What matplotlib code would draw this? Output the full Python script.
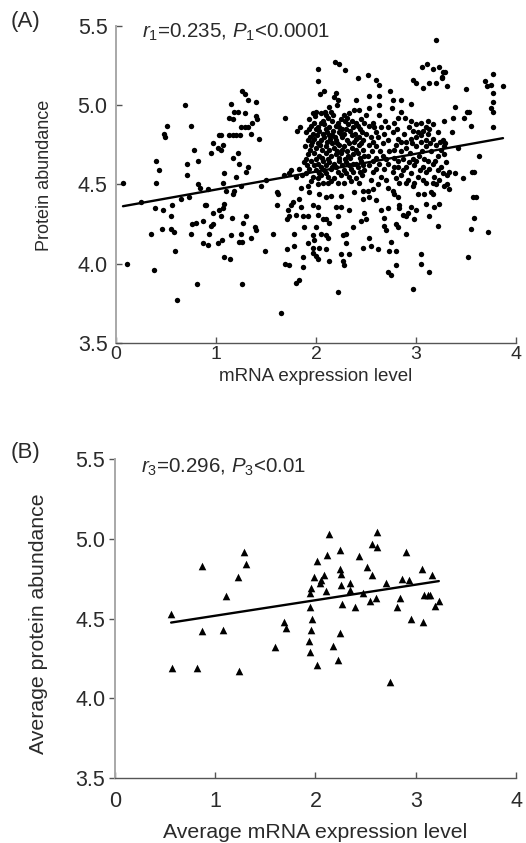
import numpy as np
import matplotlib
matplotlib.use("Agg")
import matplotlib.pyplot as plt

# -----------------------------
# Data
# -----------------------------
# (A) individual genes: (mRNA expression level, protein abundance)
genes_low_mrna = [
    (0.07, 4.51), (0.11, 4.00), (0.25, 4.39), (0.35, 4.19), (0.38, 3.96), (0.39, 4.35),
    (0.40, 4.65), (0.43, 4.59), (0.40, 4.51), (0.46, 4.22), (0.47, 4.34), (0.48, 4.82),
    (0.49, 4.80), (0.51, 4.87), (0.55, 4.30), (0.56, 4.37), (0.55, 4.22), (0.58, 4.20),
    (0.59, 4.08), (0.61, 3.77), (0.65, 4.41), (0.69, 5.00), (0.71, 4.56), (0.71, 4.63),
    (0.73, 4.42), (0.75, 4.87), (0.75, 4.19), (0.76, 4.25), (0.78, 4.72), (0.80, 4.26),
    (0.81, 3.87), (0.82, 4.65), (0.82, 4.50), (0.84, 4.48), (0.87, 4.27), (0.87, 4.13),
    (0.89, 4.37),
]

genes_mid_mrna = [
    (1.26, 5.09), (1.29, 5.07), (1.32, 5.03), (1.40, 5.02), (1.15, 5.01), (1.18, 4.96),
    (1.22, 4.96), (1.29, 4.95), (1.13, 4.92), (1.17, 4.91), (1.40, 4.93), (1.41, 4.91),
    (1.69, 4.92), (1.36, 4.89), (1.25, 4.86), (1.29, 4.86), (1.32, 4.86), (1.35, 4.82),
    (1.43, 4.79), (1.03, 4.81), (1.05, 4.81), (1.13, 4.81), (1.17, 4.81), (1.20, 4.81),
    (1.24, 4.81), (0.97, 4.76), (1.07, 4.75), (0.95, 4.70), (1.02, 4.73), (1.05, 4.72),
    (1.17, 4.67), (1.22, 4.70), (1.23, 4.63), (1.32, 4.61), (1.08, 4.57), (1.20, 4.55),
    (1.30, 4.58), (1.50, 4.53), (1.68, 4.56), (1.73, 4.57),
    (1.07, 4.51), (1.25, 4.49), (1.45, 4.49), (0.92, 4.47), (1.10, 4.46), (1.18, 4.46),
    (1.17, 4.44), (1.61, 4.45), (1.62, 4.44), (0.90, 4.37), (0.97, 4.32), (1.03, 4.34),
    (1.07, 4.35), (1.05, 4.30), (1.08, 4.38), (1.16, 4.29), (1.27, 4.26), (1.30, 4.30),
    (1.61, 4.37), (1.72, 4.34), (1.73, 4.30), (1.71, 4.28), (0.97, 4.25), (0.95, 4.24),
    (0.93, 4.19), (1.15, 4.18), (1.25, 4.19), (1.26, 4.14), (1.23, 4.14), (1.35, 4.16),
    (1.39, 4.23), (1.40, 4.21), (1.57, 4.19), (0.92, 4.12), (1.02, 4.13), (1.06, 4.15),
    (1.49, 4.08), (1.71, 4.09), (1.08, 4.04), (1.14, 4.03), (1.69, 4.00), (1.73, 3.99),
    (1.26, 3.87), (1.65, 3.69),
]

genes_dense_upper = [
    (2.02, 5.23), (2.02, 5.15), (2.19, 5.27), (2.23, 5.26), (2.29, 5.22), (2.42, 5.17),
    (2.04, 5.07), (2.08, 5.09), (2.20, 5.08), (2.18, 5.05), (2.22, 5.03), (2.21, 5.00),
    (2.40, 5.03), (2.38, 4.97), (2.43, 4.97), (2.13, 4.99), (1.97, 4.95), (2.00, 4.96),
    (2.05, 4.95), (2.09, 4.96), (2.15, 4.96), (2.17, 4.94), (1.84, 4.86), (1.81, 4.84),
    (1.93, 4.91), (2.07, 4.90), (2.12, 4.92), (2.25, 4.91), (2.31, 4.92), (2.36, 4.90),
    (2.45, 4.91), (2.48, 4.89), (1.95, 4.87), (2.02, 4.86), (2.08, 4.88), (2.13, 4.86),
    (2.20, 4.87), (2.26, 4.85), (2.32, 4.88), (2.37, 4.86), (2.42, 4.87), (1.90, 4.83),
    (1.97, 4.82), (2.03, 4.84), (2.11, 4.83), (2.16, 4.81), (2.23, 4.83), (2.28, 4.82),
    (2.34, 4.84), (2.39, 4.82), (2.46, 4.83), (1.92, 4.78), (1.98, 4.79), (2.05, 4.78),
    (2.08, 4.80), (2.14, 4.79), (2.20, 4.78), (2.26, 4.80), (2.31, 4.78), (2.40, 4.79),
    (2.47, 4.78), (1.89, 4.74), (1.95, 4.75), (2.00, 4.73), (2.04, 4.75), (2.10, 4.74),
    (2.18, 4.73), (2.23, 4.75), (2.28, 4.74), (2.36, 4.73), (2.43, 4.75), (1.92, 4.69),
    (1.98, 4.70), (2.03, 4.68), (2.10, 4.70), (2.15, 4.68), (2.20, 4.69), (2.25, 4.70),
    (2.32, 4.68), (2.37, 4.69), (2.42, 4.70), (2.48, 4.68), (1.88, 4.64), (1.95, 4.65),
    (2.02, 4.63), (2.07, 4.65), (2.13, 4.64), (2.18, 4.63), (2.23, 4.65), (2.30, 4.64),
    (2.37, 4.63), (2.45, 4.65), (1.75, 4.59), (1.83, 4.60), (1.93, 4.60), (2.00, 4.59),
    (2.05, 4.61), (2.08, 4.59), (2.15, 4.60), (2.20, 4.61), (2.28, 4.59), (2.35, 4.60),
    (2.42, 4.61), (2.48, 4.59), (1.80, 4.55), (1.86, 4.56), (1.97, 4.55), (2.02, 4.54),
    (2.05, 4.56), (2.12, 4.55), (2.18, 4.54), (2.25, 4.56), (2.33, 4.55), (2.40, 4.54),
    (2.46, 4.56),
]

# extra points packed between the rows of the two dense clouds
genes_dense_fill = [
    (1.99, 4.93), (2.10, 4.94), (2.28, 4.94), (2.33, 4.95),
    (1.98, 4.89), (2.05, 4.89), (2.16, 4.90), (2.22, 4.89), (2.29, 4.90), (2.40, 4.89),
    (1.93, 4.85), (2.00, 4.85), (2.10, 4.85), (2.17, 4.84), (2.23, 4.86), (2.30, 4.85),
    (2.44, 4.85), (1.94, 4.80), (2.01, 4.81), (2.07, 4.82), (2.13, 4.81), (2.19, 4.80),
    (2.25, 4.82), (2.36, 4.81), (2.43, 4.80), (1.96, 4.77), (2.02, 4.76), (2.11, 4.77),
    (2.16, 4.76), (2.21, 4.76), (2.33, 4.76), (2.38, 4.77), (2.45, 4.76), (1.94, 4.72),
    (2.06, 4.72), (2.13, 4.72), (2.21, 4.71), (2.26, 4.72), (2.31, 4.71), (2.40, 4.72),
    (2.47, 4.72), (1.90, 4.66), (2.00, 4.66), (2.06, 4.67), (2.12, 4.66), (2.23, 4.67),
    (2.29, 4.66), (2.34, 4.67), (2.44, 4.67), (1.91, 4.62), (1.98, 4.62), (2.10, 4.62),
    (2.16, 4.61), (2.26, 4.62), (2.33, 4.62), (2.40, 4.63), (2.47, 4.62), (1.90, 4.57),
    (2.03, 4.57), (2.10, 4.57), (2.22, 4.58), (2.30, 4.57), (2.37, 4.58), (2.44, 4.58),
    (1.95, 4.52), (2.15, 4.52), (2.28, 4.51), (2.35, 4.52), (2.43, 4.51),
    (2.57, 4.89), (2.69, 4.90), (2.78, 4.89), (2.95, 4.90), (3.17, 4.88),
    (2.60, 4.83), (2.68, 4.82), (2.77, 4.83), (2.88, 4.82), (3.12, 4.82), (3.22, 4.83),
    (2.57, 4.77), (2.72, 4.78), (2.90, 4.77), (2.96, 4.76), (3.05, 4.77), (3.14, 4.76),
    (3.24, 4.77), (2.56, 4.71), (2.64, 4.71), (2.78, 4.72), (2.85, 4.71), (2.94, 4.70),
    (3.06, 4.71), (3.15, 4.71), (3.25, 4.72), (2.57, 4.65), (2.70, 4.66), (2.82, 4.65),
    (2.93, 4.64), (3.00, 4.65), (3.08, 4.66), (3.19, 4.65), (2.60, 4.60), (2.68, 4.60),
    (2.78, 4.61), (2.87, 4.59), (3.04, 4.59), (3.13, 4.60), (3.22, 4.59), (2.55, 4.53),
    (2.70, 4.53), (2.80, 4.54), (2.92, 4.53), (3.07, 4.53), (3.23, 4.53),
]

genes_dense_lower = [
    (1.85, 4.48), (1.92, 4.49), (2.02, 4.50), (2.07, 4.51), (2.12, 4.51), (2.22, 4.51),
    (1.93, 4.45), (2.03, 4.44), (2.10, 4.42), (2.15, 4.43), (2.25, 4.43), (2.38, 4.45),
    (2.47, 4.46), (1.83, 4.41), (1.77, 4.39), (1.75, 4.37), (1.85, 4.36), (1.97, 4.37),
    (2.02, 4.36), (2.20, 4.36), (2.25, 4.36), (2.33, 4.34), (2.47, 4.41), (2.48, 4.32),
    (1.80, 4.31), (1.87, 4.30), (1.92, 4.30), (2.02, 4.31), (2.07, 4.28), (2.10, 4.28),
    (2.13, 4.26), (2.22, 4.30), (2.45, 4.27), (1.88, 4.23), (1.78, 4.19), (2.00, 4.23),
    (2.05, 4.19), (2.10, 4.18), (2.12, 4.16), (2.27, 4.18), (2.30, 4.19), (2.30, 4.13),
    (2.37, 4.23), (1.97, 4.18), (1.92, 4.13), (1.98, 4.15), (1.97, 4.10), (2.03, 4.10),
    (2.10, 4.09), (1.78, 4.11), (2.47, 4.10), (1.87, 4.04), (1.97, 4.07), (2.00, 4.05),
    (2.02, 4.03), (2.13, 4.02), (2.25, 4.06), (2.27, 4.02), (2.28, 3.99), (2.33, 4.06),
    (1.87, 3.98), (1.83, 3.90), (1.80, 3.88), (2.22, 3.82),
]

genes_high_upper = [
    (3.20, 5.41), (3.06, 5.24), (3.11, 5.26), (3.17, 5.23), (3.23, 5.24), (3.27, 5.21),
    (2.97, 5.16), (3.00, 5.14), (3.07, 5.11), (3.13, 5.14), (3.20, 5.14), (3.26, 5.17),
    (2.60, 5.16), (2.63, 5.13), (2.52, 5.19), (2.74, 5.09), (2.63, 5.06), (2.53, 5.06),
    (2.77, 5.03), (2.85, 5.03), (2.95, 5.01), (2.76, 4.98), (2.85, 4.96), (2.53, 4.98),
    (2.63, 5.00), (2.63, 4.94), (2.50, 4.94),
    (2.82, 4.92), (2.89, 4.92), (3.00, 4.88), (3.05, 4.89), (3.12, 4.90), (3.28, 4.90),
    (3.10, 4.86), (3.13, 4.85), (2.53, 4.87), (2.58, 4.86), (2.65, 4.86), (2.72, 4.86),
    (2.81, 4.85), (2.93, 4.86), (2.97, 4.84), (3.02, 4.83), (3.07, 4.84), (2.50, 4.82),
    (2.55, 4.80), (2.62, 4.80), (2.82, 4.79), (2.85, 4.77), (2.95, 4.79), (3.00, 4.80),
    (3.05, 4.81), (3.10, 4.78), (3.17, 4.79), (3.27, 4.78), (2.53, 4.75), (2.60, 4.74),
    (2.67, 4.76), (2.73, 4.71), (2.80, 4.75), (2.90, 4.73), (3.00, 4.74), (3.10, 4.74),
    (3.20, 4.75), (3.28, 4.74), (2.52, 4.68), (2.60, 4.67), (2.67, 4.68), (2.78, 4.67),
    (2.87, 4.66), (2.97, 4.66), (3.03, 4.68), (3.12, 4.65), (3.22, 4.68), (3.28, 4.69),
    (2.53, 4.62), (2.63, 4.63), (2.72, 4.63), (2.82, 4.61), (2.90, 4.61), (2.98, 4.62),
    (3.07, 4.61), (3.17, 4.63), (3.25, 4.61), (2.57, 4.58), (2.65, 4.55), (2.77, 4.58),
    (2.85, 4.56), (2.95, 4.57), (3.02, 4.55), (3.10, 4.58), (3.18, 4.55), (3.27, 4.57),
]

genes_high_lower = [
    (2.62, 4.50), (2.72, 4.48), (2.83, 4.51), (2.90, 4.51), (2.97, 4.49), (2.98, 4.51),
    (3.10, 4.51), (3.17, 4.51), (3.20, 4.50), (3.28, 4.49), (2.52, 4.46), (2.57, 4.47),
    (2.77, 4.46), (2.78, 4.44), (2.82, 4.42), (3.02, 4.44), (3.08, 4.44), (3.15, 4.45),
    (3.17, 4.44), (2.53, 4.42), (2.60, 4.40), (2.83, 4.37), (2.95, 4.36), (3.10, 4.38),
    (3.23, 4.38), (3.18, 4.36), (2.65, 4.34), (2.72, 4.35), (2.83, 4.35), (2.87, 4.31),
    (2.90, 4.30), (2.92, 4.32), (3.00, 4.34), (3.13, 4.30), (2.50, 4.28), (2.68, 4.29),
    (2.98, 4.28), (2.68, 4.24), (2.80, 4.25), (2.82, 4.23), (3.22, 4.24), (2.70, 4.21),
    (2.90, 4.19), (2.53, 4.16), (2.75, 4.14), (2.55, 4.11), (2.62, 4.09), (2.73, 4.08),
    (2.80, 4.08), (3.05, 4.06), (3.05, 4.00), (2.80, 3.99), (2.72, 3.95), (2.75, 3.93),
    (3.13, 3.95), (2.97, 3.84),
]

genes_top_mrna = [
    (3.29, 5.21), (3.26, 5.18), (3.31, 5.12), (3.50, 5.10), (3.77, 5.20), (3.69, 5.15),
    (3.71, 5.12), (3.75, 5.13), (3.77, 5.08), (3.87, 5.12), (3.77, 5.02), (3.75, 4.98),
    (3.77, 4.96), (3.77, 4.86), (3.39, 4.99), (3.37, 4.92), (3.51, 4.96), (3.53, 4.96),
    (3.48, 4.92), (3.55, 4.87), (3.36, 4.83), (3.29, 4.76), (3.42, 4.73), (3.63, 4.68),
    (3.30, 4.64), (3.56, 4.58), (3.58, 4.58), (3.31, 4.56), (3.33, 4.58), (3.39, 4.57),
    (3.47, 4.54), (3.31, 4.50), (3.33, 4.47), (3.57, 4.42), (3.60, 4.42), (3.58, 4.29),
    (3.55, 4.22), (3.72, 4.20), (3.52, 4.04),
]

# (B) averaged groups
avg_mrna = [0.56, 0.565, 0.82, 0.87, 0.87, 1.08, 1.11, 1.23, 1.24, 1.29, 1.31, 1.60,
            1.69, 1.71, 1.94, 1.95, 1.95, 1.95, 1.96, 1.965, 1.96, 1.99, 2.02, 2.02,
            2.04, 2.05, 2.08, 2.10, 2.11, 2.13, 2.17, 2.22, 2.24, 2.24, 2.25, 2.24,
            2.25, 2.26, 2.34, 2.34, 2.39, 2.43, 2.47, 2.51, 2.54, 2.56, 2.56, 2.60,
            2.61, 2.61, 2.70, 2.74, 2.81, 2.84, 2.86, 2.90, 2.93, 2.95, 3.06, 3.07,
            3.08, 3.12, 3.14, 3.16, 3.19, 3.23]
avg_protein = [4.53, 4.19, 4.19, 4.83, 4.42, 4.43, 4.64, 4.76, 4.17, 4.92, 4.84, 4.32,
               4.48, 4.44, 4.36, 4.29, 4.57, 4.66, 4.69, 4.50, 4.43, 4.76, 4.86, 4.21,
               4.72, 4.74, 4.77, 4.67, 4.90, 5.03, 4.33, 4.24, 4.93, 4.81, 4.78, 4.41,
               4.71, 4.59, 4.72, 4.68, 4.57, 4.89, 4.66, 4.82, 4.61, 4.97, 4.77, 4.63,
               5.04, 4.95, 4.72, 4.10, 4.57, 4.63, 4.75, 4.92, 4.74, 4.50, 4.81, 4.48,
               4.65, 4.65, 4.65, 4.77, 4.58, 4.61]

# fitted lines: (intercept, slope, x start, x end)
fit_a = (4.355, 0.113, 0.07, 3.87)
fit_b = (4.420, 0.0974, 0.56, 3.23)

label_a = r"$r_1$=0.235, $P_1$<0.0001"
label_b = r"$r_3$=0.296, $P_3$<0.01"

# -----------------------------
# Style
# -----------------------------
plt.rcParams["font.family"] = ["Liberation Sans", "DejaVu Sans"]
plt.rcParams["mathtext.fontset"] = "custom"
plt.rcParams["mathtext.rm"] = "Liberation Sans"
plt.rcParams["mathtext.it"] = "Liberation Sans:italic"

TEXT = "#2a2a2a"


def style_axes(ax, ytick_dir, ypad, xpad, xsize):
    ax.set_xlim(0, 4)
    ax.set_ylim(3.5, 5.5)
    ax.set_xticks([0, 1, 2, 3, 4])
    ax.set_yticks([3.5, 4.0, 4.5, 5.0, 5.5])
    ax.set_yticklabels(["3.5", "4.0", "4.5", "5.0", "5.5"])
    ax.spines["top"].set_visible(False)
    ax.spines["right"].set_visible(False)
    ax.spines["left"].set_color("#a8a8a8")
    ax.spines["left"].set_linewidth(1.4)
    ax.spines["bottom"].set_color("#555555")
    ax.spines["bottom"].set_linewidth(1.0)
    ax.tick_params(axis="x", direction="in", length=4, width=1, color="#555555",
                   labelsize=xsize, labelcolor=TEXT, pad=xpad)
    ax.tick_params(axis="y", direction=ytick_dir, length=4, width=1, color="#555555",
                   labelsize=15.5, labelcolor=TEXT, pad=ypad)


def draw_fit(ax, fit, lw):
    b0, b1, x0, x1 = fit
    xs = np.array([x0, x1])
    ax.plot(xs, b0 + b1 * xs, color="black", lw=lw, solid_capstyle="round")


fig = plt.figure(figsize=(5.26, 8.43), dpi=100)

# -----------------------------
# Panel A
# -----------------------------
ax_a = fig.add_axes([0.2205, 0.5931, 0.7605, 0.3761])
all_genes = np.array(genes_low_mrna + genes_mid_mrna + genes_dense_upper
                     + genes_dense_fill + genes_dense_lower + genes_high_upper
                     + genes_high_lower + genes_top_mrna)
ax_a.scatter(all_genes[:, 0], all_genes[:, 1], s=15, color="black",
             linewidths=0, zorder=3)
draw_fit(ax_a, fit_a, 1.7)
style_axes(ax_a, "in", 6, 2, 14)
ax_a.set_xlabel("mRNA expression level", fontsize=13.5, color=TEXT)
ax_a.set_ylabel("Protein abundance", fontsize=13, color=TEXT)
ax_a.xaxis.set_label_coords(0.5, -0.078)
ax_a.yaxis.set_label_coords(-0.158, 0.53)
ax_a.text(0.065, 0.98, label_a, transform=ax_a.transAxes, fontsize=14.8,
          color=TEXT, va="center", ha="left")
fig.text(26 / 526, 1 - 22 / 843, "(A)", fontsize=16, color=TEXT,
         ha="center", va="center")

# -----------------------------
# Panel B
# -----------------------------
ax_b = fig.add_axes([0.2186, 0.0771, 0.7624, 0.3784])
ax_b.scatter(avg_mrna, avg_protein, marker="^", s=30, color="black",
             linewidths=0, zorder=3)
draw_fit(ax_b, fit_b, 1.7)
style_axes(ax_b, "out", 3, 9, 15.5)
ax_b.set_xlabel("Average mRNA expression level", fontsize=15.3, color=TEXT)
ax_b.set_ylabel("Average protein abundance", fontsize=15.3, color=TEXT)
ax_b.xaxis.set_label_coords(0.5, -0.14)
ax_b.yaxis.set_label_coords(-0.167, 0.483)
ax_b.text(0.065, 0.975, label_b, transform=ax_b.transAxes, fontsize=14.8,
          color=TEXT, va="center", ha="left")
fig.text(26 / 526, 1 - 452 / 843, "(B)", fontsize=16, color=TEXT,
         ha="center", va="center")

fig.savefig("out.png", dpi=100)
